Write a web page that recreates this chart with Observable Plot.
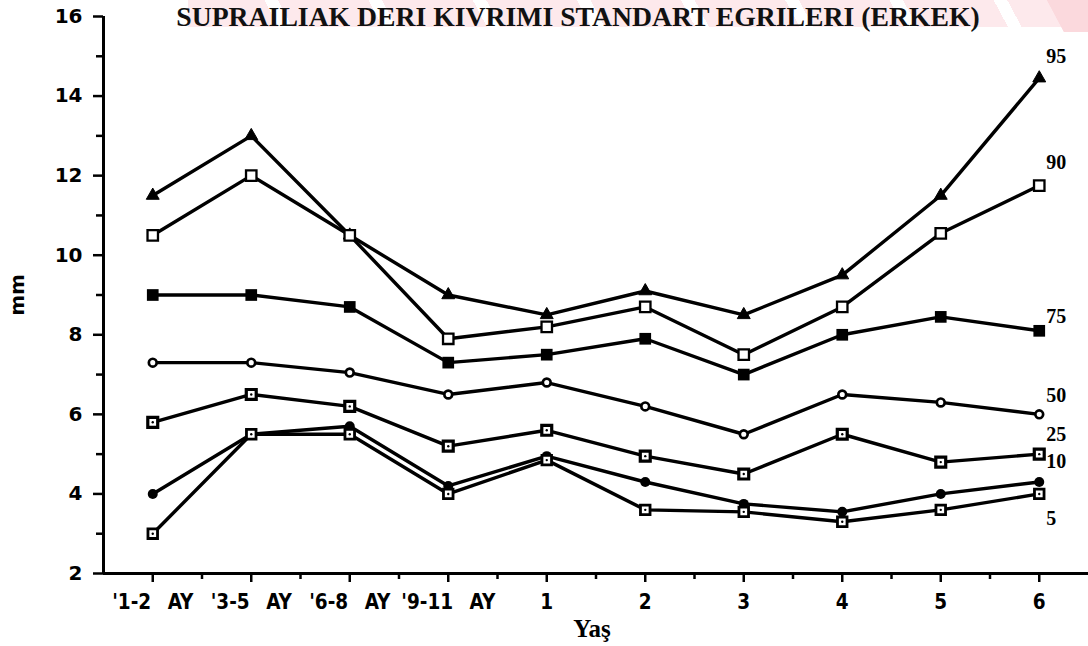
<!DOCTYPE html>
<html>
<head>
<meta charset="utf-8">
<script src="https://cdn.jsdelivr.net/npm/d3@7"></script>
<script src="https://cdn.jsdelivr.net/npm/@observablehq/plot@0.6"></script>
<style>
  html, body { margin: 0; padding: 0; background: #fff; }
  #wrap { position: relative; width: 1088px; height: 646px; overflow: hidden; }
  #wm { position: absolute; left: 188px; top: 0; width: 900px; height: 27px;
        background: repeating-linear-gradient(62deg, #fde9ec 0px, #fde9ec 80px, #fff 80px, #fff 92px); }
  #wm2 { position: absolute; left: 1025px; top: 0; width: 63px; height: 32px;
        background: linear-gradient(62deg, rgba(255,255,255,0) 48%, #fbd9dd 49%); }
  #chart { position: absolute; left: 0; top: 0; }
</style>
</head>
<body>
<div id="wrap"><div id="wm"></div><div id="wm2"></div><div id="chart"></div></div>
<script>
// ---- data ----
const categories = ["'1-2 AY", "'3-5 AY", "'6-8 AY", "'9-11 AY", "1", "2", "3", "4", "5", "6"];
const seriesNames = ["95", "90", "75", "50", "25", "10", "5"];
const p95 = [11.5, 13.0, 10.5, 9.0, 8.5, 9.1, 8.5, 9.5, 11.5, 14.45];
const p90 = [10.5, 12.0, 10.5, 7.9, 8.2, 8.7, 7.5, 8.7, 10.55, 11.75];
const p75 = [9.0, 9.0, 8.7, 7.3, 7.5, 7.9, 7.0, 8.0, 8.45, 8.1];
const p50 = [7.3, 7.3, 7.05, 6.5, 6.8, 6.2, 5.5, 6.5, 6.3, 6.0];
const p25 = [5.8, 6.5, 6.2, 5.2, 5.6, 4.95, 4.5, 5.5, 4.8, 5.0];
const p10 = [4.0, 5.5, 5.7, 4.2, 4.95, 4.3, 3.75, 3.55, 4.0, 4.3];
const p5  = [3.0, 5.5, 5.5, 4.0, 4.85, 3.6, 3.55, 3.3, 3.6, 4.0];
const yMajorTicks = [2, 4, 6, 8, 10, 12, 14, 16];
const yMinorTicks = [3, 5, 7, 9, 11, 13, 15];
const titleText = "SUPRAILIAK DERI KIVRIMI STANDART EGRILERI (ERKEK)";
const xTitle = "Yaş";
const yTitle = "mm";

// ---- table built from the arrays ----
const valuesBySeries = {"95": p95, "90": p90, "75": p75, "50": p50, "25": p25, "10": p10, "5": p5};
const rows = seriesNames.flatMap(s => valuesBySeries[s].map((v, i) => ({series: s, i, value: v})));
const lastRows = seriesNames.map(s => ({series: s, i: categories.length - 1, value: valuesBySeries[s][categories.length - 1]}));

// ---- styles ----
const markerStyle = {
  "95": {symbol: "triangle", r: 4.8, fill: "black", stroke: "black", strokeWidth: 1},
  "90": {symbol: "square", r: 5.9, fill: "white", stroke: "black", strokeWidth: 2.3},
  "75": {symbol: "square", r: 6.6, fill: "black", stroke: "black", strokeWidth: 0},
  "50": {symbol: "circle", r: 3.9, fill: "white", stroke: "black", strokeWidth: 2.7},
  "25": {symbol: "square", r: 5.6, fill: "white", stroke: "black", strokeWidth: 3.2},
  "10": {symbol: "circle", r: 5, fill: "black", stroke: "black", strokeWidth: 0},
  "5":  {symbol: "square", r: 5.4, fill: "white", stroke: "black", strokeWidth: 2.8}
};
const labelDy = {"95": -22, "90": -23, "75": -14, "50": -19, "25": -20, "10": -20, "5": 25};
const sans = "'DejaVu Sans', sans-serif";
const condensed = "'DejaVu Sans Condensed', 'DejaVu Sans', sans-serif";
const serif = "'Liberation Serif', 'DejaVu Serif', serif";

const marks = [
  // axes
  Plot.axisY({ticks: yMajorTicks, tickSize: 10, tickPadding: 11, label: null,
    fontSize: 20, fontWeight: "bold", fontFamily: sans, strokeWidth: 2.5}),
  Plot.axisY({ticks: yMinorTicks, tickSize: 7, tickFormat: () => "", label: null, strokeWidth: 2.5}),
  Plot.axisX({ticks: d3.range(categories.length), tickSize: 9, tickPadding: 12, label: null,
    tickFormat: i => categories[i].replace(" ", "\u00a0\u00a0\u2009"),
    fontSize: 20.5, fontWeight: "bold", fontFamily: condensed, strokeWidth: 2.5}),
  Plot.axisX({ticks: d3.range(categories.length - 1).map(i => i + 0.5), tickSize: 6,
    tickFormat: () => "", label: null, strokeWidth: 2.5}),
  Plot.ruleX([-0.5], {stroke: "black", strokeWidth: 3}),
  Plot.ruleY([2], {stroke: "black", strokeWidth: 3}),
  // series lines
  Plot.line(rows, {x: "i", y: "value", z: "series", stroke: "black", strokeWidth: 3.4, strokeLinejoin: "round"}),
  // markers
  ...seriesNames.map(s => Plot.dot(rows.filter(d => d.series === s), {x: "i", y: "value", ...markerStyle[s]})),
  Plot.dot(rows.filter(d => d.series === "25" || d.series === "5"), {x: "i", y: "value", r: 1.2, fill: "black"}),
  // series labels
  ...seriesNames.map(s => Plot.text(lastRows.filter(d => d.series === s), {
    x: "i", y: "value", text: "series", dx: 7, dy: labelDy[s], textAnchor: "start",
    fontSize: 20, fontWeight: "bold", fontFamily: serif, fill: "black"})),
  // titles
  Plot.text([titleText], {frameAnchor: "top", dx: -18, dy: -10, fontSize: 27.7, fontWeight: "bold",
    fontFamily: serif, fill: "#111"}),
  Plot.text([xTitle], {frameAnchor: "bottom", dx: -4, dy: 63, fontSize: 25, fontWeight: "bold",
    fontFamily: serif, fill: "black"}),
  Plot.text([yTitle], {frameAnchor: "left", dx: -86, rotate: -90, textAnchor: "middle", fontSize: 20,
    fontWeight: "bold", fontFamily: sans, fill: "black"})
];

const chart = Plot.plot({
  width: 1088,
  height: 646,
  marginTop: 16,
  marginRight: 0,
  marginBottom: 73,
  marginLeft: 103,
  x: {type: "linear", domain: [-0.5, 9.5], axis: null},
  y: {domain: [2, 16], axis: null},
  style: {background: "transparent", color: "black", overflow: "visible"},
  marks
});
document.getElementById("chart").appendChild(chart);
</script>
</body>
</html>
